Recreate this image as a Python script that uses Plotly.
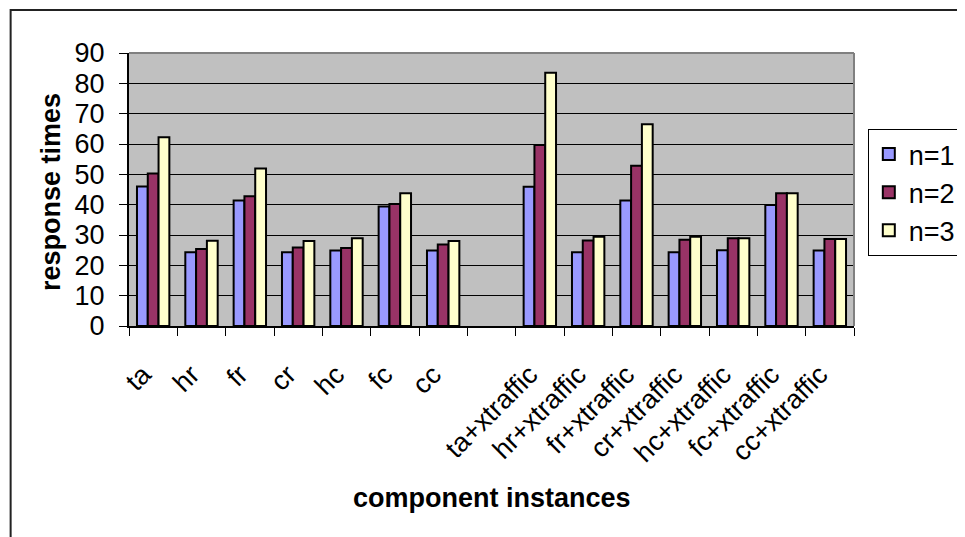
import plotly.graph_objects as go

categories = ["ta", "hr", "fr", "cr", "hc", "fc", "cc", " ",
              "ta+xtraffic", "hr+xtraffic", "fr+xtraffic", "cr+xtraffic",
              "hc+xtraffic", "fc+xtraffic", "cc+xtraffic"]
n1 = [46, 24.3, 41.4, 24.3, 24.9, 39.4, 24.9, None, 45.9, 24.3, 41.4, 24.3, 25.0, 39.9, 24.9]
n2 = [50.3, 25.4, 42.8, 25.9, 25.7, 40.2, 26.9, None, 59.7, 28.2, 52.8, 28.4, 28.9, 43.8, 28.7]
n3 = [62.2, 28.1, 51.9, 28.0, 28.9, 43.8, 28.0, None, 83.5, 29.4, 66.5, 29.4, 28.9, 43.8, 28.7]
series_names = ["n=1", "n=2", "n=3"]
series_colors = ["#9999FF", "#993366", "#FFFFCC"]

FONT = "Arial, Liberation Sans, sans-serif"
FS = 27

fig = go.Figure()
for name, vals, col in zip(series_names, [n1, n2, n3], series_colors):
    fig.add_trace(go.Bar(x=categories, y=vals, name=name,
                         marker=dict(color=col, line=dict(color="black", width=2))))

# page body has an 8px margin; work in screen coordinates
OFF = 8
W, H = 965, 537
SL, SR, ST, SB = 129, 864, 53, 326   # plot area in screen px
L = SL - OFF
T = ST - OFF
R = W - (SR - OFF)
B = H - (SB - OFF)
pw, ph = SR - SL, SB - ST

def px_x(sx):
    return (sx - SL) / pw

def px_y(sy):
    return 1 + (ST - sy) / ph

fig.update_layout(
    width=W, height=H,
    margin=dict(l=L, r=R, t=T, b=B),
    paper_bgcolor="white",
    plot_bgcolor="#C0C0C0",
    barmode="group", bargap=0.33, bargroupgap=0,
    font=dict(family=FONT, size=FS, color="black"),
    showlegend=True,
    legend=dict(x=px_x(878), y=px_y(129), xanchor="left", yanchor="top",
                bgcolor="white", bordercolor="black", borderwidth=1,
                font=dict(family=FONT, size=FS, color="black"),
                tracegroupgap=0),
    xaxis=dict(type="category", categoryorder="array", categoryarray=categories,
               tickangle=-45, ticks="outside", ticklen=8, tickcolor="black",
               tickson="boundaries", showline=True, linecolor="black", linewidth=2,
               showgrid=False, ticklabelstandoff=20, ticklabelshift=-10,
               tickfont=dict(family=FONT, size=FS, color="black")),
    yaxis=dict(range=[0, 90], dtick=10, ticks="outside", ticklen=8, tickcolor="black",
               showline=True, linecolor="black", linewidth=2,
               showgrid=True, gridcolor="black", gridwidth=1, zeroline=False,
               ticklabelstandoff=9,
               tickfont=dict(family=FONT, size=FS, color="black")),
    annotations=[
        dict(text="<b>response times</b>", xref="paper", yref="paper",
             x=px_x(50), y=px_y(192), xanchor="center", yanchor="middle",
             textangle=-90, showarrow=False,
             font=dict(family=FONT, size=FS, color="black")),
        dict(text="<b>component instances</b>", xref="paper", yref="paper",
             x=0.5, y=px_y(498), xanchor="center", yanchor="middle", showarrow=False,
             font=dict(family=FONT, size=FS, color="black")),
    ],
    shapes=[
        dict(type="line", xref="paper", yref="paper", x0=0, x1=1, y0=1, y1=1,
             line=dict(color="#808080", width=2), layer="above"),
        dict(type="line", xref="paper", yref="paper", x0=1, x1=1, y0=0, y1=1,
             line=dict(color="#808080", width=2), layer="above"),
        dict(type="rect", xref="paper", yref="paper",
             x0=px_x(9), x1=1.6, y0=-1.6, y1=px_y(10),
             line=dict(color="#222222", width=2), fillcolor="rgba(0,0,0,0)"),
    ],
)

fig.write_html("out.html")
